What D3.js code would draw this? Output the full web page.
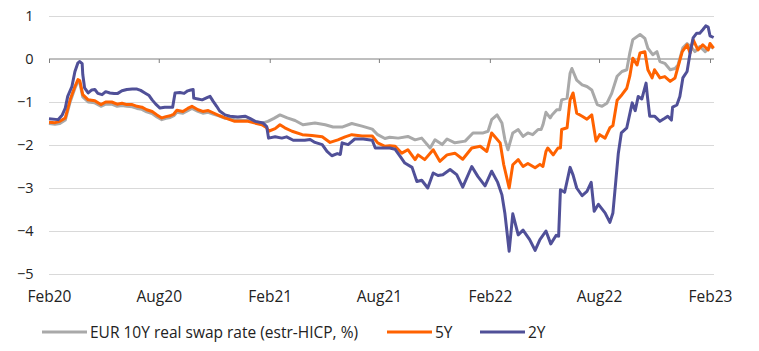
<!DOCTYPE html>
<html>
<head>
<meta charset="utf-8">
<script src="https://cdn.jsdelivr.net/npm/d3@7"></script>
<style>
  html, body { margin: 0; padding: 0; background: #fff; }
  svg { display: block; }
  text { font-family: "Open Sans", "Noto Sans", sans-serif; fill: #222; }
</style>
</head>
<body>
<div id="chart"></div>
<script>
// ---- Data ----
const seriesNames = ["EUR 10Y real swap rate (estr-HICP, %)", "5Y", "2Y"];
const seriesColors = ["#a9a9a9", "#ff6200", "#505098"];

const xTickDates = ["2020-02-01","2020-08-01","2021-02-01","2021-08-01","2022-02-01","2022-08-01","2023-02-01"];
const xTickLabels = ["Feb20","Aug20","Feb21","Aug21","Feb22","Aug22","Feb23"];
const yTickValues = [1, 0, -1, -2, -3, -4, -5];

const rate10Y = [
  ["2020-02-01",-1.50],["2020-02-11",-1.52],["2020-02-19",-1.50],["2020-02-28",-1.42],
  ["2020-03-07",-1.00],["2020-03-15",-0.68],["2020-03-20",-0.52],["2020-03-23",-0.55],
  ["2020-03-28",-0.88],["2020-04-06",-1.00],["2020-04-17",-1.02],["2020-04-27",-1.10],
  ["2020-05-05",-1.05],["2020-05-15",-1.05],["2020-05-24",-1.10],["2020-06-01",-1.08],
  ["2020-06-09",-1.10],["2020-06-18",-1.11],["2020-06-26",-1.15],["2020-07-04",-1.17],
  ["2020-07-12",-1.23],["2020-07-21",-1.27],["2020-07-29",-1.35],["2020-08-06",-1.41],
  ["2020-08-13",-1.38],["2020-08-20",-1.36],["2020-08-26",-1.32],["2020-08-31",-1.24],
  ["2020-09-10",-1.26],["2020-09-18",-1.20],["2020-09-25",-1.15],["2020-10-05",-1.22],
  ["2020-10-13",-1.26],["2020-10-22",-1.24],["2020-10-30",-1.28],["2020-11-10",-1.33],
  ["2020-11-19",-1.38],["2020-12-05",-1.41],["2020-12-27",-1.43],["2021-01-19",-1.49],
  ["2021-01-29",-1.45],["2021-02-08",-1.38],["2021-02-18",-1.30],["2021-03-02",-1.37],
  ["2021-03-15",-1.43],["2021-03-28",-1.53],["2021-04-17",-1.49],["2021-05-04",-1.53],
  ["2021-05-17",-1.58],["2021-06-02",-1.58],["2021-06-17",-1.50],["2021-07-04",-1.56],
  ["2021-07-21",-1.63],["2021-07-30",-1.76],["2021-08-11",-1.85],["2021-08-19",-1.82],
  ["2021-09-02",-1.84],["2021-09-18",-1.80],["2021-09-30",-1.88],["2021-10-11",-1.84],
  ["2021-10-25",-2.07],["2021-11-02",-1.88],["2021-11-14",-1.99],["2021-11-22",-1.86],
  ["2021-12-05",-1.95],["2021-12-22",-1.91],["2022-01-04",-1.72],["2022-01-21",-1.72],
  ["2022-01-29",-1.68],["2022-02-04",-1.41],["2022-02-13",-1.30],["2022-02-21",-1.49],
  ["2022-02-26",-1.88],["2022-03-03",-2.11],["2022-03-11",-1.72],["2022-03-20",-1.64],
  ["2022-03-28",-1.80],["2022-04-05",-1.72],["2022-04-13",-1.76],["2022-04-22",-1.64],
  ["2022-04-27",-1.64],["2022-04-30",-1.53],["2022-05-05",-1.24],["2022-05-12",-1.37],
  ["2022-05-15",-1.30],["2022-05-23",-1.18],["2022-05-28",-1.18],["2022-05-31",-0.95],
  ["2022-06-09",-0.91],["2022-06-14",-0.33],["2022-06-17",-0.22],["2022-06-25",-0.49],
  ["2022-07-04",-0.60],["2022-07-12",-0.64],["2022-07-20",-0.72],["2022-07-29",-1.06],
  ["2022-08-06",-1.10],["2022-08-14",-1.03],["2022-08-22",-0.80],["2022-08-31",-0.40],
  ["2022-09-08",-0.29],["2022-09-16",-0.25],["2022-09-21",0.14],["2022-09-26",0.45],
  ["2022-10-08",0.57],["2022-10-16",0.48],["2022-10-21",0.25],["2022-10-29",0.10],
  ["2022-11-05",0.17],["2022-11-10",-0.06],["2022-11-18",-0.10],["2022-11-27",-0.25],
  ["2022-12-05",-0.22],["2022-12-10",-0.14],["2022-12-18",0.26],["2022-12-25",0.36],
  ["2023-01-02",0.26],["2023-01-07",0.17],["2023-01-15",0.29],["2023-01-24",0.17],
  ["2023-02-01",0.29],["2023-02-07",0.25]
];

const rate5Y = [
  ["2020-02-01",-1.47],["2020-02-11",-1.48],["2020-02-19",-1.45],["2020-02-28",-1.37],
  ["2020-03-07",-0.95],["2020-03-15",-0.64],["2020-03-20",-0.48],["2020-03-23",-0.50],
  ["2020-03-28",-0.83],["2020-04-06",-0.95],["2020-04-17",-0.97],["2020-04-27",-1.06],
  ["2020-05-05",-1.00],["2020-05-15",-1.00],["2020-05-24",-1.05],["2020-06-01",-1.03],
  ["2020-06-09",-1.06],["2020-06-18",-1.06],["2020-06-26",-1.10],["2020-07-04",-1.12],
  ["2020-07-12",-1.18],["2020-07-21",-1.22],["2020-07-29",-1.30],["2020-08-06",-1.37],
  ["2020-08-13",-1.34],["2020-08-20",-1.32],["2020-08-26",-1.28],["2020-08-31",-1.19],
  ["2020-09-10",-1.22],["2020-09-18",-1.15],["2020-09-25",-1.10],["2020-10-05",-1.18],
  ["2020-10-13",-1.22],["2020-10-22",-1.20],["2020-10-30",-1.25],["2020-11-10",-1.32],
  ["2020-11-19",-1.37],["2020-12-05",-1.45],["2020-12-27",-1.45],["2021-01-19",-1.53],
  ["2021-01-27",-1.60],["2021-01-30",-1.68],["2021-02-10",-1.62],["2021-02-18",-1.53],
  ["2021-02-26",-1.60],["2021-03-10",-1.68],["2021-03-27",-1.76],["2021-04-12",-1.78],
  ["2021-04-29",-1.81],["2021-05-12",-1.94],["2021-05-25",-1.88],["2021-06-06",-1.81],
  ["2021-06-17",-1.76],["2021-07-04",-1.79],["2021-07-21",-1.79],["2021-07-30",-1.95],
  ["2021-08-11",-2.03],["2021-08-19",-2.02],["2021-08-28",-2.03],["2021-09-08",-2.19],
  ["2021-09-18",-2.11],["2021-09-30",-2.34],["2021-10-05",-2.23],["2021-10-16",-2.34],
  ["2021-10-30",-2.11],["2021-11-10",-2.38],["2021-11-22",-2.23],["2021-12-05",-2.19],
  ["2021-12-18",-2.33],["2022-01-02",-2.07],["2022-01-16",-2.03],["2022-01-27",-2.15],
  ["2022-02-04",-1.72],["2022-02-09",-1.80],["2022-02-18",-1.95],["2022-02-24",-2.46],
  ["2022-03-05",-3.00],["2022-03-11",-2.46],["2022-03-20",-2.34],["2022-03-28",-2.50],
  ["2022-04-05",-2.43],["2022-04-17",-2.53],["2022-04-25",-2.45],["2022-04-30",-2.50],
  ["2022-05-05",-2.15],["2022-05-08",-2.07],["2022-05-17",-2.23],["2022-05-25",-2.07],
  ["2022-05-29",-2.07],["2022-05-31",-1.64],["2022-06-09",-1.60],["2022-06-14",-0.95],
  ["2022-06-19",-0.79],["2022-06-25",-1.26],["2022-07-04",-1.33],["2022-07-12",-1.40],
  ["2022-07-20",-1.30],["2022-07-27",-1.91],["2022-08-02",-1.76],["2022-08-11",-1.84],
  ["2022-08-19",-1.60],["2022-08-24",-1.55],["2022-08-31",-0.96],["2022-09-08",-0.83],
  ["2022-09-16",-0.68],["2022-09-21",-0.40],["2022-09-26",0.02],["2022-10-03",-0.14],
  ["2022-10-08",0.14],["2022-10-16",0.17],["2022-10-21",-0.25],["2022-10-28",-0.44],
  ["2022-11-01",-0.25],["2022-11-10",-0.44],["2022-11-18",-0.41],["2022-11-27",-0.52],
  ["2022-12-05",-0.44],["2022-12-10",-0.18],["2022-12-17",0.17],["2022-12-25",0.33],
  ["2022-12-30",0.14],["2023-01-04",0.45],["2023-01-12",0.21],["2023-01-20",0.33],
  ["2023-01-29",0.21],["2023-02-01",0.36],["2023-02-07",0.25]
];

const rate2Y = [
  ["2020-02-01",-1.39],["2020-02-16",-1.41],["2020-02-23",-1.30],["2020-02-28",-1.14],
  ["2020-03-03",-0.87],["2020-03-10",-0.64],["2020-03-15",-0.29],["2020-03-20",-0.09],
  ["2020-03-23",-0.06],["2020-03-27",-0.11],["2020-03-28",-0.36],["2020-03-31",-0.67],
  ["2020-04-06",-0.79],["2020-04-12",-0.72],["2020-04-17",-0.71],["2020-04-22",-0.80],
  ["2020-04-29",-0.83],["2020-05-05",-0.76],["2020-05-12",-0.79],["2020-05-19",-0.80],
  ["2020-05-25",-0.80],["2020-06-01",-0.74],["2020-06-09",-0.71],["2020-06-18",-0.70],
  ["2020-06-26",-0.70],["2020-07-02",-0.73],["2020-07-09",-0.79],["2020-07-16",-0.85],
  ["2020-07-21",-0.95],["2020-07-27",-1.05],["2020-08-03",-1.14],["2020-08-11",-1.12],
  ["2020-08-20",-1.12],["2020-08-24",-1.12],["2020-08-28",-0.79],["2020-09-05",-0.78],
  ["2020-09-12",-0.80],["2020-09-18",-0.74],["2020-09-23",-0.72],["2020-09-27",-0.71],
  ["2020-09-28",-0.91],["2020-10-05",-0.93],["2020-10-12",-0.95],["2020-10-20",-0.90],
  ["2020-10-25",-0.87],["2020-10-30",-0.98],["2020-11-05",-1.10],["2020-11-10",-1.21],
  ["2020-11-19",-1.30],["2020-11-27",-1.33],["2020-12-10",-1.35],["2020-12-22",-1.33],
  ["2020-12-30",-1.38],["2021-01-08",-1.45],["2021-01-21",-1.49],["2021-01-27",-1.57],
  ["2021-01-30",-1.84],["2021-02-10",-1.81],["2021-02-21",-1.84],["2021-03-01",-1.81],
  ["2021-03-12",-1.89],["2021-03-31",-1.89],["2021-04-09",-1.87],["2021-04-17",-1.94],
  ["2021-04-29",-1.99],["2021-05-07",-2.15],["2021-05-15",-2.25],["2021-05-24",-2.20],
  ["2021-05-29",-2.22],["2021-06-01",-1.95],["2021-06-11",-1.99],["2021-06-22",-1.86],
  ["2021-07-06",-1.86],["2021-07-21",-1.89],["2021-07-26",-2.07],["2021-08-06",-2.07],
  ["2021-08-19",-2.07],["2021-08-28",-2.10],["2021-09-05",-2.26],["2021-09-13",-2.42],
  ["2021-09-25",-2.52],["2021-10-03",-2.85],["2021-10-11",-2.82],["2021-10-21",-3.00],
  ["2021-10-30",-2.65],["2021-11-07",-2.71],["2021-11-15",-2.69],["2021-11-27",-2.57],
  ["2021-12-08",-2.69],["2021-12-18",-2.98],["2022-01-02",-2.50],["2022-01-12",-2.73],
  ["2022-01-24",-2.95],["2022-02-04",-2.61],["2022-02-14",-2.87],["2022-02-21",-3.16],
  ["2022-02-26",-3.60],["2022-03-05",-4.47],["2022-03-11",-3.60],["2022-03-20",-4.09],
  ["2022-03-28",-3.98],["2022-04-08",-4.20],["2022-04-17",-4.45],["2022-04-25",-4.20],
  ["2022-05-05",-4.00],["2022-05-13",-4.30],["2022-05-22",-4.10],["2022-05-26",-4.12],
  ["2022-05-29",-3.04],["2022-06-05",-3.10],["2022-06-14",-2.52],["2022-06-19",-2.70],
  ["2022-06-25",-3.00],["2022-07-04",-3.18],["2022-07-12",-3.08],["2022-07-19",-2.87],
  ["2022-07-24",-3.54],["2022-07-31",-3.38],["2022-08-11",-3.58],["2022-08-19",-3.80],
  ["2022-08-24",-3.58],["2022-08-29",-2.81],["2022-09-02",-2.19],["2022-09-07",-1.72],
  ["2022-09-16",-1.60],["2022-09-25",-1.02],["2022-09-30",-1.20],["2022-10-05",-0.87],
  ["2022-10-11",-0.93],["2022-10-18",-0.56],["2022-10-20",-0.84],["2022-10-24",-1.33],
  ["2022-11-01",-1.33],["2022-11-10",-1.45],["2022-11-18",-1.38],["2022-11-23",-1.33],
  ["2022-11-29",-1.42],["2022-12-01",-1.12],["2022-12-08",-1.07],["2022-12-13",-0.87],
  ["2022-12-18",-0.44],["2022-12-25",-0.29],["2022-12-30",0.14],["2023-01-04",0.49],
  ["2023-01-10",0.60],["2023-01-15",0.60],["2023-01-20",0.68],["2023-01-25",0.77],
  ["2023-01-29",0.74],["2023-02-01",0.54],["2023-02-07",0.50]
];

// ---- Chart ----
const W = 759, H = 351;
const parse = d3.utcParse("%Y-%m-%d");
const allSeries = [rate10Y, rate5Y, rate2Y];
const labelFont = "15.5px";

const svg = d3.select("#chart").append("svg").attr("width", W).attr("height", H);

const x = d3.scaleUtc()
  .domain([parse("2020-02-01"), parse("2023-02-01")])
  .range([49, 710]);
const y = d3.scaleLinear().domain([-5, 1]).range([274, 16]);
const gridRight = 714;

// Gridlines
svg.append("g").selectAll("line")
  .data(yTickValues.filter(v => v !== 0))
  .join("line")
  .attr("x1", 49).attr("x2", gridRight)
  .attr("y1", d => y(d)).attr("y2", d => y(d))
  .attr("stroke", "#d9d9d9").attr("stroke-width", 1)
  .attr("shape-rendering", "crispEdges");

// Zero axis with small ticks
const zeroAxis = d3.axisBottom(x)
  .tickValues(xTickDates.map(parse))
  .tickSize(4)
  .tickFormat("");
const gz = svg.append("g").attr("transform", `translate(0,${y(0)})`).call(zeroAxis);
gz.select(".domain").remove();
gz.selectAll(".tick line").attr("stroke", "#7f7f7f");
gz.append("line").attr("x1", 49).attr("x2", gridRight).attr("y1", 0).attr("y2", 0)
  .attr("stroke", "#7f7f7f").attr("stroke-width", 1);

// Y axis labels
const yAxis = d3.axisLeft(y).tickValues(yTickValues).tickSize(0).tickPadding(15.5).tickFormat(d3.format("d"));
const gy = svg.append("g").attr("transform", "translate(49,0)").call(yAxis);
gy.select(".domain").remove();
gy.selectAll("text").style("font-size", "14.5px").style("font-family", "\"Open Sans\", sans-serif").attr("fill", "#222");

// X axis labels
const xAxis = d3.axisBottom(x)
  .tickValues(xTickDates.map(parse))
  .tickSize(0).tickPadding(0)
  .tickFormat((d, i) => xTickLabels[i]);
const gx = svg.append("g").attr("transform", "translate(0,291)").call(xAxis);
gx.select(".domain").remove();
gx.selectAll("text").style("font-size", labelFont).style("font-family", "\"Open Sans\", sans-serif").attr("fill", "#222").attr("dy", "0.71em");

// Lines
const line = d3.line().x(d => x(parse(d[0]))).y(d => y(d[1])).curve(d3.curveLinear);
svg.append("g").selectAll("path")
  .data(allSeries)
  .join("path")
  .attr("d", line)
  .attr("fill", "none")
  .attr("stroke", (d, i) => seriesColors[i])
  .attr("stroke-width", 3)
  .attr("stroke-linejoin", "round");

// Legend
const legendItems = [
  {x1: 42, x2: 87, tx: 90},
  {x1: 387, x2: 432, tx: 435},
  {x1: 480, x2: 525, tx: 528}
];
const lg = svg.append("g");
seriesNames.forEach((name, i) => {
  const it = legendItems[i];
  lg.append("line").attr("x1", it.x1).attr("x2", it.x2).attr("y1", 332).attr("y2", 332)
    .attr("stroke", seriesColors[i]).attr("stroke-width", 3);
  lg.append("text").attr("x", it.tx).attr("y", 337.5)
    .style("font-size", labelFont).text(name);
});
</script>
</body>
</html>
